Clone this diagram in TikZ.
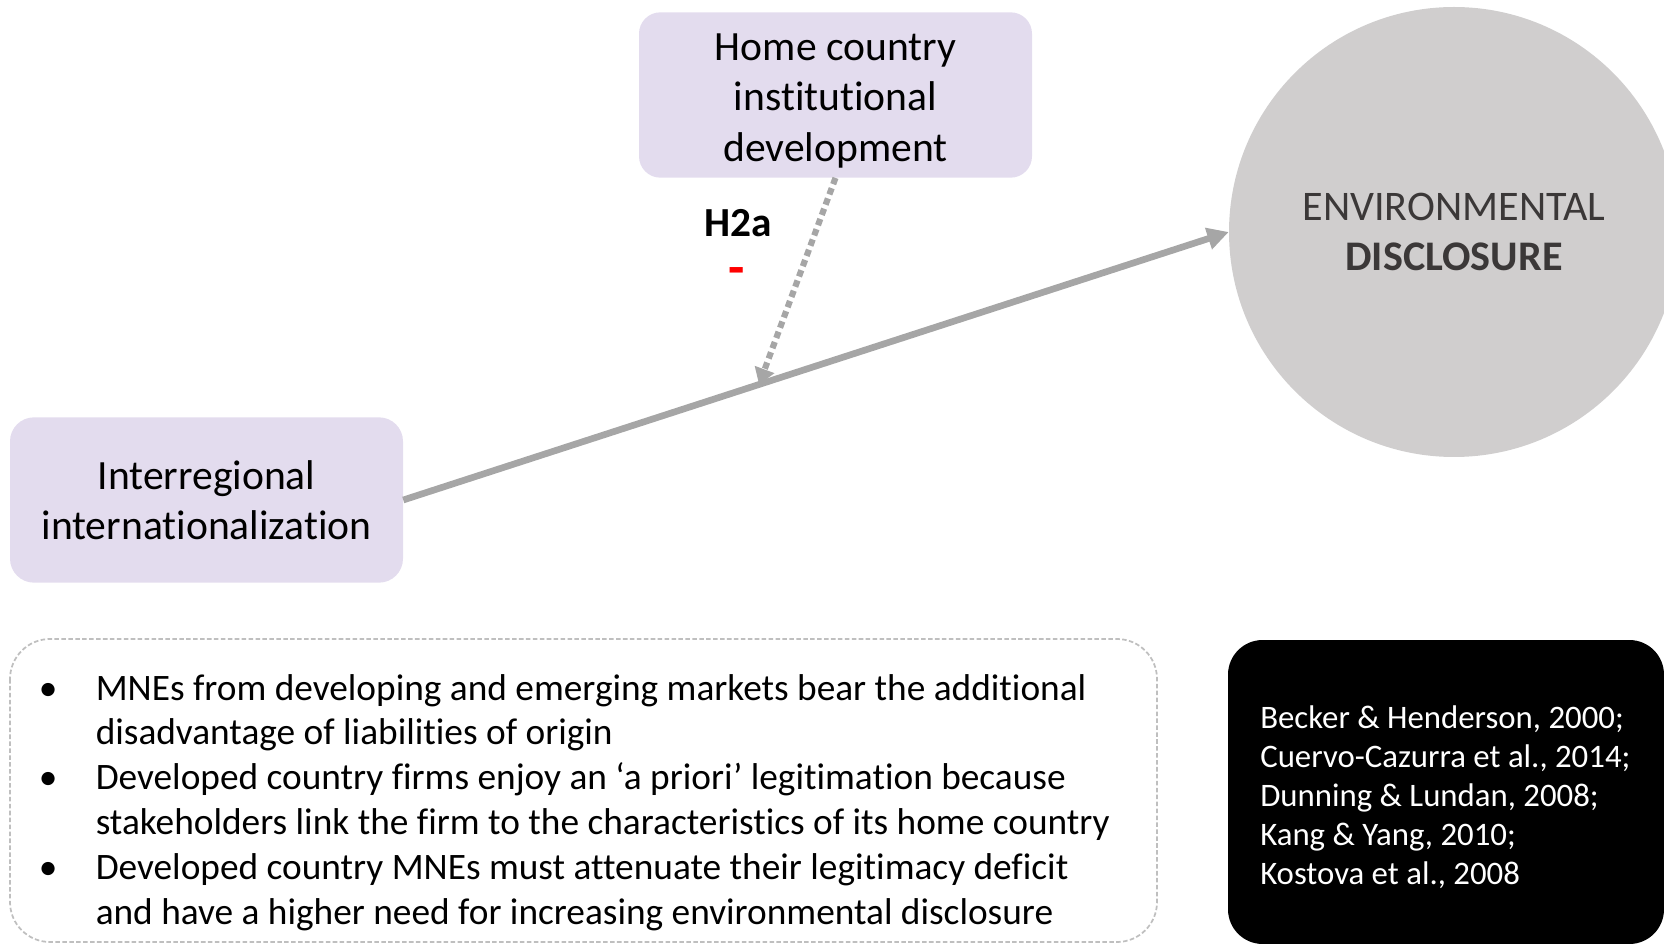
\documentclass[tikz,border=0pt]{standalone}
\usepackage{fontspec}
\setmainfont{Carlito}[Ligatures={NoCommon}]
\usetikzlibrary{arrows.meta,calc}
\definecolor{lav}{HTML}{E3DCEE}
\definecolor{arrowgray}{HTML}{A6A6A6}
\definecolor{circgray}{HTML}{D0CECE}
\definecolor{circtext}{HTML}{3B3838}
\definecolor{dashgray}{HTML}{BFBFBF}
\begin{document}
\begin{tikzpicture}[x=0.75pt,y=-0.75pt,
  pbox/.style={rectangle, rounded corners=16pt, fill=lav, inner sep=0pt,
    minimum width=294.75pt, minimum height=124pt},
  boxtext/.style={inner sep=0pt, align=center,
    font=\fontsize{31.2}{37.8}\selectfont},
  mainarrow/.style={draw=arrowgray, line width=5pt,
    -{Triangle[length=16pt,width=16pt]}},
  modarrow/.style={draw=arrowgray, line width=4.6pt, dash pattern=on 5pt off 3.2pt,
    -{Triangle[length=12pt,width=15pt]}},
]
\useasboundingbox (0,0) rectangle (1664,944);
\clip (0,0) rectangle (1664,944);

% outcome variable
\node[circle, fill=circgray, inner sep=0pt, minimum size=337.5pt, align=center,
  text=circtext, font=\fontsize{31.6}{37}\selectfont]
  (circ) at (1454,232) {ENVIRONMENTAL\\\textbf{DISCLOSURE}};

% predictor and moderator
\node[pbox] (tbox) at (835.5,95) {};
\node[boxtext] (ttext) at ($(tbox.center)+(0,6)$) {Home country\\institutional\\development};
\node[pbox, rounded corners=18pt] (lbox) at (206.5,500) {};
\node[boxtext] (ltext) at ($(lbox.center)+(0,0)$) {Interregional\\internationalization};

% main effect and moderation
\draw[mainarrow] (lbox.east) -- (circ.west);
\coordinate (mid) at ($(lbox.east)!0.431!(circ.west)$);
\draw[modarrow] (tbox.south) -- (mid);

\node[anchor=base, inner sep=0pt, font=\bfseries\fontsize{31}{37}\selectfont] (h2a) at (738,237) {H2a};
\node[inner sep=0pt, text=red, font=\bfseries\fontsize{40}{48}\selectfont] (sign) at (737,277) {-};

% argument box
\draw[dashgray, line width=1.3pt, dash pattern=on 3.4pt off 1.8pt, rounded corners=30pt]
  (10,639) rectangle (1157,942);
\node[anchor=base west, inner sep=0pt, font=\fontsize{28}{33.7}\selectfont] (bul) at (38.7,700)
{\begin{tabular}[t]{@{}p{42.6pt}@{}l@{}}
\textbullet & MNEs from developing and emerging markets bear the additional\\
 & disadvantage of liabilities of origin\\
\textbullet & Developed country firms enjoy an ‘a priori’ legitimation because\\
 & stakeholders link the firm to the characteristics of its home country\\
\textbullet & Developed country MNEs must attenuate their legitimacy deficit\\
 & and have a higher need for increasing environmental disclosure
\end{tabular}};

% references
\fill[black, rounded corners=26pt] (1228,640) rectangle (1664,944);
\node[anchor=base west, inner sep=0pt, text=white, font=\fontsize{24.6}{29.3}\selectfont] (refs) at (1260,728)
{\begin{tabular}[t]{@{}l@{}}
Becker \& Henderson, 2000;\\
Cuervo-Cazurra et al., 2014;\\
Dunning \& Lundan, 2008;\\
Kang \& Yang, 2010;\\
Kostova et al., 2008
\end{tabular}};
\end{tikzpicture}
\end{document}
